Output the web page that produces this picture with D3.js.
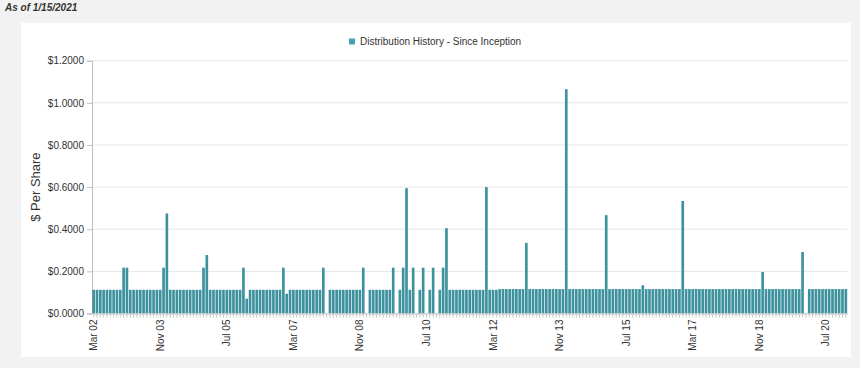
<!DOCTYPE html>
<html>
<head>
<meta charset="utf-8">
<script src="https://cdn.jsdelivr.net/npm/d3@7"></script>
<style>
  body { margin: 0; background: #f2f2f2; font-family: "Liberation Sans", Arial, sans-serif; }
  svg text { fill: #333; }
</style>
</head>
<body>
<svg id="chart" width="860" height="368"></svg>
<script>
// monthly distributions, Mar 2002 .. Jan 2021 (null = no payment that month)
const firstMonth = new Date(2002, 2, 1);
const distributions = [
  0.1125, 0.1125, 0.1125, 0.1125, 0.1125, 0.1125, 0.1125, 0.1125, 0.1125, 0.2175, // 2002 Mar-Dec
  0.2175, 0.1125, 0.1125, 0.1125, 0.1125, 0.1125, 0.1125, 0.1125, 0.1125, 0.1125, 0.1125, 0.2175, // 2003
  0.4750, 0.1125, 0.1125, 0.1125, 0.1125, 0.1125, 0.1125, 0.1125, 0.1125, 0.1125, 0.1125, 0.2175, // 2004
  0.2775, 0.1125, 0.1125, 0.1125, 0.1125, 0.1125, 0.1125, 0.1125, 0.1125, 0.1125, 0.1125, 0.2175, // 2005
  0.0700, 0.1125, 0.1125, 0.1125, 0.1125, 0.1125, 0.1125, 0.1125, 0.1125, 0.1125, 0.1125, 0.2175, // 2006
  0.0940, 0.1125, 0.1125, 0.1125, 0.1125, 0.1125, 0.1125, 0.1125, 0.1125, 0.1125, 0.1125, 0.2175, // 2007
  null,   0.1125, 0.1125, 0.1125, 0.1125, 0.1125, 0.1125, 0.1125, 0.1125, 0.1125, 0.1125, 0.2175, // 2008
  null,   0.1125, 0.1125, 0.1125, 0.1125, 0.1125, 0.1125, 0.1125, 0.2175, null,   0.1125, 0.2175, // 2009
  0.5950, 0.1125, 0.2175, null,   0.1125, 0.2175, null,   0.1125, 0.2175, null,   0.1125, 0.2175, // 2010
  0.4050, 0.1125, 0.1125, 0.1125, 0.1125, 0.1125, 0.1125, 0.1125, 0.1125, 0.1125, 0.1125, 0.1125, // 2011
  0.6000, 0.1125, 0.1125, 0.1125, 0.1160, 0.1160, 0.1160, 0.1160, 0.1160, 0.1160, 0.1160, 0.1160, // 2012
  0.3350, 0.1160, 0.1160, 0.1160, 0.1160, 0.1160, 0.1160, 0.1160, 0.1160, 0.1160, 0.1160, 0.1160, // 2013
  1.0650, 0.1160, 0.1160, 0.1160, 0.1160, 0.1160, 0.1160, 0.1160, 0.1160, 0.1160, 0.1160, 0.1160, // 2014
  0.4670, 0.1160, 0.1160, 0.1160, 0.1160, 0.1160, 0.1160, 0.1160, 0.1160, 0.1160, 0.1160, 0.1340, // 2015
  0.1160, 0.1160, 0.1160, 0.1160, 0.1160, 0.1160, 0.1160, 0.1160, 0.1160, 0.1160, 0.1160, 0.5340, // 2016
  0.1160, 0.1160, 0.1160, 0.1160, 0.1160, 0.1160, 0.1160, 0.1160, 0.1160, 0.1160, 0.1160, 0.1160, // 2017
  0.1160, 0.1160, 0.1160, 0.1160, 0.1160, 0.1160, 0.1160, 0.1160, 0.1160, 0.1160, 0.1160, 0.1970, // 2018
  0.1160, 0.1160, 0.1160, 0.1160, 0.1160, 0.1160, 0.1160, 0.1160, 0.1160, 0.1160, 0.1160, 0.2920, // 2019
  null,   0.1160, 0.1160, 0.1160, 0.1160, 0.1160, 0.1160, 0.1160, 0.1160, 0.1160, 0.1160, 0.1160, // 2020
  0.1160 // 2021 Jan
];
const fmtMonth = d3.timeFormat("%b %y");
const months = distributions.map((_, i) => fmtMonth(d3.timeMonth.offset(firstMonth, i)));
const xTickLabels = ["Mar 02", "Nov 03", "Jul 05", "Mar 07", "Nov 08", "Jul 10",
                     "Mar 12", "Nov 13", "Jul 15", "Mar 17", "Nov 18", "Jul 20"];
const yTicks = [0, 0.2, 0.4, 0.6, 0.8, 1.0, 1.2];

const barColor = "#3d929e";
const svg = d3.select("#chart");

// header + white panel
svg.append("text")
  .attr("x", 5).attr("y", 11)
  .attr("font-size", 10).attr("font-weight", "bold").attr("font-style", "italic")
  .text("As of 1/15/2021");

svg.append("rect")
  .attr("x", 21).attr("y", 23).attr("width", 830).attr("height", 334)
  .attr("fill", "#fff");

const plotLeft = 92, plotRight = 847.5, plotTop = 60.7, plotBottom = 313.5;

const x = d3.scaleBand().domain(months).range([plotLeft, plotRight]).paddingInner(0.2).paddingOuter(0.1);
const y = d3.scaleLinear().domain([0, 1.2]).range([plotBottom, plotTop]);

// grid
svg.append("g")
  .selectAll("line")
  .data(yTicks.slice(1))
  .join("line")
  .attr("x1", plotLeft).attr("x2", plotRight)
  .attr("y1", (d) => y(d)).attr("y2", (d) => y(d))
  .attr("stroke", "#e6e6e6");

// y axis
const yAxis = svg.append("g")
  .attr("transform", `translate(${plotLeft},0)`)
  .call(d3.axisLeft(y).tickValues(yTicks).tickSize(5).tickPadding(3)
    .tickFormat((d) => "$" + d3.format(".4f")(d)));
yAxis.select(".domain").attr("stroke", "#c0c0c0");
yAxis.selectAll(".tick line").attr("stroke", "#c0c0c0");
yAxis.selectAll(".tick text").attr("font-size", 10)
  .attr("font-family", "Liberation Sans, Arial, sans-serif").attr("fill", "#333");

svg.append("text")
  .attr("transform", `translate(40,${(plotTop + plotBottom) / 2}) rotate(-90)`)
  .attr("text-anchor", "middle")
  .attr("font-size", 13)
  .text("$ Per Share");

// bars
svg.append("g")
  .selectAll("rect")
  .data(months.map((m, i) => ({ month: m, value: distributions[i] })).filter((d) => d.value != null))
  .join("rect")
  .attr("x", (d) => x(d.month))
  .attr("width", x.bandwidth())
  .attr("y", (d) => y(d.value))
  .attr("height", (d) => plotBottom - y(d.value))
  .attr("fill", barColor);

// x axis: a tick for every month, labels every 20 months
const xAxis = svg.append("g")
  .attr("transform", `translate(0,${plotBottom})`)
  .call(d3.axisBottom(x).tickSize(4).tickSizeOuter(0).tickFormat(""));
xAxis.select(".domain").attr("stroke", "#c0c0c0");
xAxis.selectAll(".tick line").attr("stroke", "#c8c8c8");

svg.append("g")
  .selectAll("text")
  .data(xTickLabels)
  .join("text")
  .attr("transform", (d) => `translate(${x(d) + x.bandwidth() / 2},${plotBottom + 6}) rotate(-90)`)
  .attr("text-anchor", "end")
  .attr("dy", "0.35em")
  .attr("font-size", 10)
  .text((d) => d);

// legend
svg.append("rect")
  .attr("x", 349).attr("y", 38.5).attr("width", 6).attr("height", 6)
  .attr("fill", "#44a3b2");
svg.append("text")
  .attr("x", 360).attr("y", 45)
  .attr("font-size", 10)
  .text("Distribution History - Since Inception");
</script>
</body>
</html>
